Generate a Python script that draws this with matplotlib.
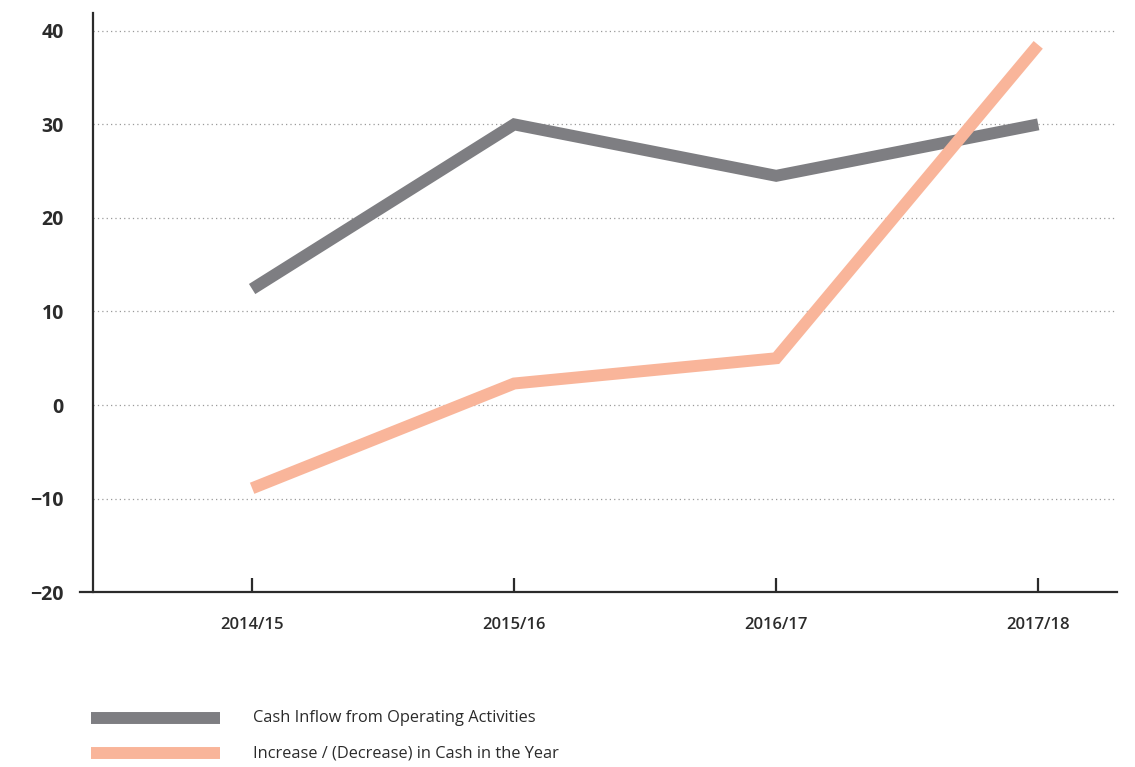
import matplotlib.pyplot as plt
from matplotlib.lines import Line2D

years = ['2014/15', '2015/16', '2016/17', '2017/18']
cash_inflow = [12.4, 30.0, 24.5, 30.0]
cash_change = [-8.9, 2.3, 5.0, 38.5]
labels = ['Cash Inflow from Operating Activities',
          'Increase / (Decrease) in Cash in the Year']

gray = '#7e7e82'
salmon = '#f9b59a'
text_col = '#2b2b2b'

plt.rcParams['font.family'] = ['Open Sans', 'DejaVu Sans']

fig = plt.figure(figsize=(11.35, 7.67), dpi=100)
ax = fig.add_axes([0.082, 0.228, 0.902, 0.755])

x = range(len(years))
ax.plot(x, cash_inflow, color=gray, lw=8.6, solid_joinstyle='miter', solid_capstyle='butt', zorder=3)
ax.plot(x, cash_change, color=salmon, lw=8.6, solid_joinstyle='miter', solid_capstyle='butt', zorder=3)

ax.set_xlim(-0.607, 3.30)
ax.set_ylim(-20, 41.9)
ax.set_yticks([-20, -10, 0, 10, 20, 30, 40])
ax.set_xticks(list(x))
ax.set_xticklabels(years)

for y in [-10, 0, 10, 20, 30, 40]:
    ax.axhline(y, color='#9a9a9a', lw=0.9, ls=(0, (1, 2.5)), zorder=1)

for s in ['top', 'right', 'bottom']:
    ax.spines[s].set_visible(False)
ax.spines['left'].set_color(text_col)
ax.spines['left'].set_linewidth(1.6)

# bottom axis line sticks out a little to the left of the y axis
ax.plot([-0.013, 1.0], [-20, -20], color=text_col, lw=1.6,
        transform=ax.get_yaxis_transform(), clip_on=False, zorder=4)

ax.tick_params(axis='x', direction='in', length=10, width=1.6, color=text_col,
               pad=18, labelsize=12, labelcolor=text_col)
ax.tick_params(axis='y', length=0, pad=21, labelsize=14, labelcolor=text_col)
for t in ax.get_xticklabels():
    t.set_fontweight('semibold')
for t in ax.get_yticklabels():
    t.set_fontweight('bold')

# legend
for i, (lab, col) in enumerate(zip(labels, [gray, salmon])):
    yy = 1 - (718 + 35 * i) / 767
    fig.add_artist(Line2D([91 / 1135, 220 / 1135], [yy, yy], color=col, lw=8.6,
                          solid_capstyle='butt'))
    fig.text(253 / 1135, yy, lab, fontsize=11.8, color=text_col, va='center', ha='left')

fig.savefig('out.png', dpi=100)
